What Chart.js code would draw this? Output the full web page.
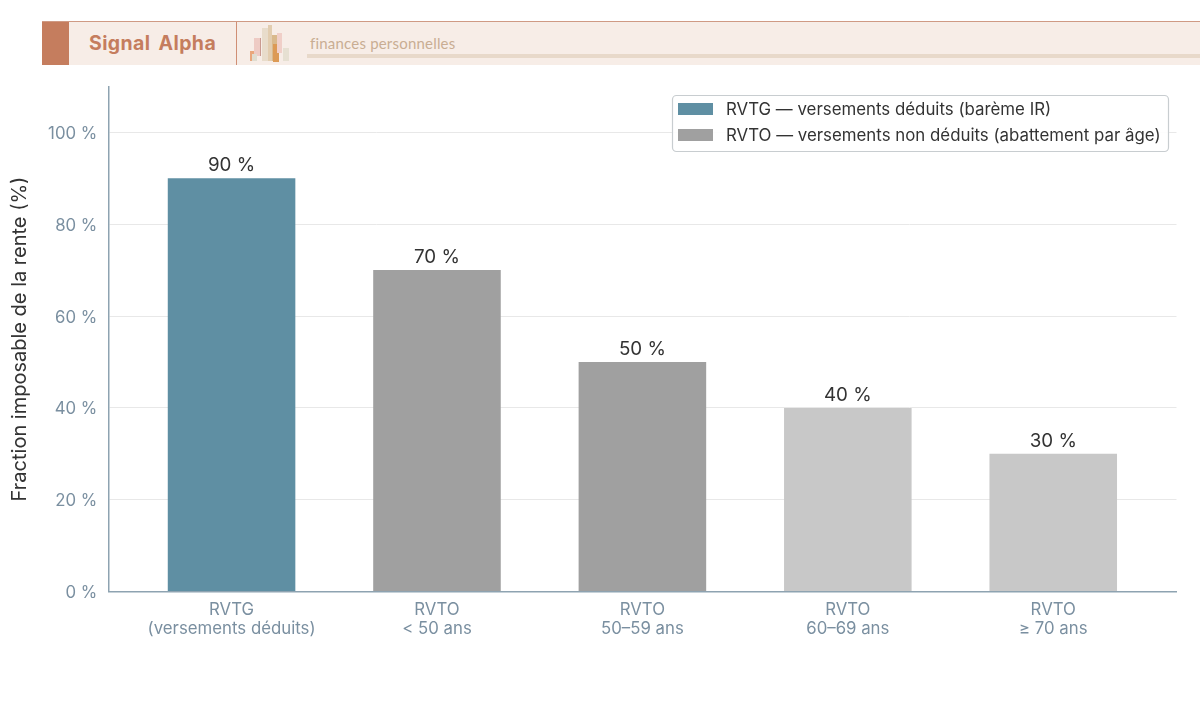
<!DOCTYPE html>
<html lang="fr">
<head>
<meta charset="utf-8">
<title>Fraction imposable de la rente</title>
<script src="https://cdn.jsdelivr.net/npm/chart.js@4/dist/chart.umd.min.js"></script>
<style>
    html, body { margin: 0; padding: 0; background: #fff; }
    #page { position: relative; width: 1200px; height: 721px; overflow: hidden; }
    #rente { position: absolute; left: 0; top: 0; }
    #banner { position: absolute; left: 42px; top: 21px; width: 1158px; height: 44px; background: #f7ede7; border-top: 1px solid #cf9a84; box-sizing: border-box; }
    #swatch { position: absolute; left: 0; top: 0; width: 27px; height: 43px; background: #c57d5e; }
    #brand { position: absolute; left: 47px; top: 9px; font: 700 19.5px/24px Inter, sans-serif; color: #c57d5e; letter-spacing: 0.4px; word-spacing: 3px; }
    #divider { position: absolute; left: 194px; top: 0; width: 1px; height: 43px; background: #d08f75; }
    #skyline { position: absolute; left: 207px; top: 3px; }
    #topic { position: absolute; left: 268px; top: 12px; font: 400 15px/18px Lato, sans-serif; color: #c9ad93; letter-spacing: 0.2px; }
    #rule { position: absolute; left: 265px; top: 32px; right: 0; height: 4px; background: #e8d9ca; }
</style>
</head>
<body>
<div id="page">
    <canvas id="rente" width="1200" height="721"></canvas>
    <div id="banner">
        <div id="swatch"></div>
        <div id="brand">Signal Alpha</div>
        <div id="divider"></div>
        <svg id="skyline" width="44" height="38">
            <rect x="1" y="26" width="7" height="10" fill="#e9a77c"/>
            <rect x="5" y="13" width="7" height="18" fill="#eecbc4"/>
            <rect x="11" y="13" width="1" height="18" fill="#c99a90"/>
            <rect x="3" y="29" width="5" height="7" fill="#e0ddd0"/>
            <rect x="13" y="3" width="6" height="33" fill="#e8dccb"/>
            <rect x="19" y="0" width="4" height="36" fill="#e2cdb0"/>
            <rect x="23" y="10" width="5" height="26" fill="#d9b98c"/>
            <rect x="24" y="19" width="6" height="18" fill="#dc9a55"/>
            <rect x="28" y="8" width="5" height="20" fill="#f0cfc8"/>
            <rect x="34" y="23" width="6" height="13" fill="#e6e0d2"/>
        </svg>
        <div id="topic">finances personnelles</div>
        <div id="rule"></div>
    </div>
</div>
<script>
const categories = [
    ["RVTG", "(versements déduits)"],
    ["RVTO", "< 50 ans"],
    ["RVTO", "50–59 ans"],
    ["RVTO", "60–69 ans"],
    ["RVTO", "≥ 70 ans"]
];
const rvtgPositions = [0];
const rvtgValues = [90];
const rvtoPositions = [1, 2, 3, 4];
const rvtoValues = [70, 50, 40, 30];
const yTicks = [0, 20, 40, 60, 80, 100];

const rvtgLabel = "RVTG — versements déduits (barème IR)";
const rvtoLabel = "RVTO — versements non déduits (abattement par âge)";
const rvtgColor = "#5f8fa3";
const rvtoColors = ["#a0a0a0", "#a0a0a0", "#c8c8c8", "#c8c8c8"];

const fontFamily = "Inter, sans-serif";
const tickColor = "#7a8fa0";
const axisColor = "#8ea3b1";
const textColor = "#333333";

// value printed above every bar
const barValues = {
    id: "barValues",
    afterDatasetsDraw(chart) {
        const ctx = chart.ctx;
        ctx.save();
        ctx.font = "18.8px " + fontFamily;
        ctx.fillStyle = textColor;
        ctx.textAlign = "center";
        ctx.textBaseline = "bottom";
        chart.data.datasets.forEach((dataset, i) => {
            chart.getDatasetMeta(i).data.forEach((bar, j) => {
                ctx.fillText(dataset.data[j].y + " %", bar.x, bar.y - 3.5);
            });
        });
        ctx.restore();
    }
};

// framed legend in the top right corner of the plot
const cornerLegend = {
    id: "cornerLegend",
    afterDraw(chart) {
        const ctx = chart.ctx;
        const left = 672, top = 95, width = 496, height = 56;
        ctx.save();
        ctx.beginPath();
        ctx.roundRect(left + 0.5, top + 0.5, width, height, 4);
        ctx.fillStyle = "rgba(255,255,255,0.9)";
        ctx.fill();
        ctx.strokeStyle = "#c8cdd0";
        ctx.lineWidth = 1.2;
        ctx.stroke();
        ctx.font = "16.85px " + fontFamily;
        ctx.textBaseline = "middle";
        chart.data.datasets.forEach((dataset, i) => {
            const rowY = 109 + i * 26;
            ctx.fillStyle = Array.isArray(dataset.backgroundColor) ? dataset.backgroundColor[0] : dataset.backgroundColor;
            ctx.fillRect(678, rowY - 6, 35, 12);
            ctx.fillStyle = textColor;
            ctx.fillText(dataset.label, 726, rowY + 1);
        });
        ctx.restore();
    }
};

new Chart(document.getElementById("rente"), {
    type: "bar",
    data: {
        datasets: [
            {
                label: rvtgLabel,
                data: rvtgValues.map((v, i) => ({ x: rvtgPositions[i], y: v })),
                backgroundColor: rvtgColor
            },
            {
                label: rvtoLabel,
                data: rvtoValues.map((v, i) => ({ x: rvtoPositions[i], y: v })),
                backgroundColor: rvtoColors
            }
        ]
    },
    options: {
        responsive: false,
        animation: false,
        grouped: false,
        barPercentage: 0.621,
        categoryPercentage: 1,
        layout: { padding: { top: 86.4, right: 23.5, left: 0, bottom: 0 } },
        plugins: {
            legend: { display: false },
            tooltip: { enabled: false }
        },
        scales: {
            x: {
                type: "linear",
                offset: false,
                min: -0.6,
                max: 4.6,
                afterBuildTicks: scale => { scale.ticks = categories.map((c, i) => ({ value: i })); },
                afterFit: scale => { scale.height = 129.4; },
                grid: { display: false },
                border: { color: axisColor, width: 1.5 },
                ticks: {
                    autoSkip: false,
                    maxRotation: 0,
                    padding: 1.5,
                    color: tickColor,
                    font: { family: fontFamily, size: 16.8, lineHeight: 1.1 },
                    callback: value => categories[value]
                }
            },
            y: {
                min: 0,
                max: 110,
                afterBuildTicks: scale => { scale.ticks = yTicks.map(v => ({ value: v })); },
                afterFit: scale => { scale.width = 108.3; },
                grid: { color: "#e8e8e8", drawTicks: false },
                border: { color: axisColor, width: 1.5 },
                title: {
                    display: true,
                    text: "Fraction imposable de la rente (%)",
                    color: textColor,
                    font: { family: fontFamily, size: 20 },
                    padding: { top: 8, bottom: 0 }
                },
                ticks: {
                    padding: 11,
                    color: tickColor,
                    // blank first line nudges the label down to sit level with its gridline
                    font: { family: fontFamily, size: 16.8, lineHeight: "3px" },
                    callback: value => ["", value + " %"]
                }
            }
        }
    },
    plugins: [barValues, cornerLegend]
});
</script>
</body>
</html>
